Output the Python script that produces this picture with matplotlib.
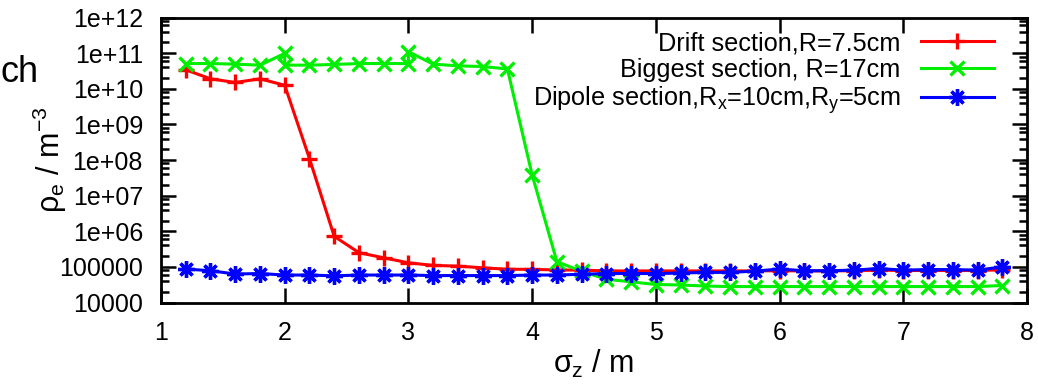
import matplotlib
matplotlib.use("Agg")
import matplotlib.pyplot as plt
from matplotlib.ticker import LogLocator, FixedLocator, NullFormatter

plt.rcParams['font.family'] = ['Liberation Sans', 'DejaVu Sans']
plt.rcParams['mathtext.fontset'] = 'custom'
plt.rcParams['mathtext.rm'] = 'Liberation Sans'
plt.rcParams['mathtext.it'] = 'Liberation Sans'
plt.rcParams['mathtext.bf'] = 'Liberation Sans:bold'

# ---- data ----
sigma_z = [1.2, 1.4, 1.6, 1.8, 2.0, 2.2, 2.4, 2.6, 2.8, 3.0, 3.2, 3.4, 3.6, 3.8, 4.0, 4.2, 4.4,
           4.6, 4.8, 5.0, 5.2, 5.4, 5.6, 5.8, 6.0, 6.2, 6.4, 6.6, 6.8, 7.0, 7.2, 7.4, 7.6, 7.8]
drift = [3.4e10, 1.9e10, 1.5e10, 1.9e10, 1.25e10, 1.1e8, 7.2e5, 2.5e5, 1.8e5, 1.3e5, 1.1e5, 1.05e5,
         9.4e4, 8.6e4, 8.5e4, 8.2e4, 8.1e4, 7.7e4, 7.7e4, 7.7e4, 7.7e4, 7.7e4, 7.7e4, 7.7e4,
         7.8e4, 7.7e4, 7.7e4, 7.8e4, 8.1e4, 7.9e4, 7.9e4, 7.9e4, 7.9e4, 8.3e4]
biggest_x = [1.2, 1.4, 1.6, 1.8, 2.0, 2.0, 2.2, 2.4, 2.6, 2.8, 3.0, 3.0, 3.2, 3.4, 3.6, 3.8, 4.0,
             4.2, 4.4, 4.6, 4.8, 5.0, 5.2, 5.4, 5.6, 5.8, 6.0, 6.2, 6.4, 6.6, 6.8, 7.0, 7.2,
             7.4, 7.6, 7.8]
biggest = [5.1e10, 5.1e10, 4.9e10, 4.6e10, 9.8e10, 4.6e10, 4.6e10, 4.8e10, 5.1e10, 5.1e10, 5.1e10,
           1.1e11, 4.9e10, 4.4e10, 4.2e10, 3.6e10, 3.8e7, 1.4e5, 7.5e4, 4.5e4, 3.8e4, 3.2e4,
           3.1e4, 2.9e4, 2.8e4, 2.8e4, 2.8e4, 2.8e4, 2.8e4, 2.8e4, 2.8e4, 2.8e4, 2.8e4, 2.8e4,
           2.8e4, 3.0e4]
dipole = [8.7e4, 7.8e4, 6.3e4, 6.5e4, 5.9e4, 5.9e4, 5.6e4, 5.9e4, 5.9e4, 5.9e4, 5.7e4, 5.7e4,
          5.7e4, 5.7e4, 5.9e4, 5.9e4, 6.2e4, 6.5e4, 6.5e4, 6.5e4, 6.7e4, 7.0e4, 7.0e4, 7.6e4,
          8.7e4, 7.8e4, 7.8e4, 8.1e4, 9.0e4, 8.1e4, 8.4e4, 8.4e4, 8.1e4, 1.0e5]

labels = ['Drift section,R=7.5cm', 'Biggest section, R=17cm',
          r'Dipole section,R$_\mathrm{x}$=10cm,R$_\mathrm{y}$=5cm']
xticks = [1, 2, 3, 4, 5, 6, 7, 8]
yticks = [1e4, 1e5, 1e6, 1e7, 1e8, 1e9, 1e10, 1e11, 1e12]
ytick_labels = ['10000', '100000', '1e+06', '1e+07', '1e+08', '1e+09', '1e+10', '1e+11', '1e+12']

# ---- figure ----
fig = plt.figure(figsize=(10.38, 3.87), dpi=100)
ax = fig.add_axes([161/1038, 1 - 302.5/387, (1027-161)/1038, (302.5-17.5)/387])

lw = 2.2
ax.plot(sigma_z, drift, color='#ff0000', lw=lw, marker='+', ms=11, mew=2.4, label=labels[0])
ax.plot(biggest_x, biggest, color='#00ee00', lw=lw, marker='x', ms=10, mew=2.4, label=labels[1])
ax.plot(sigma_z, dipole, color='#0000ff', lw=lw, marker=(8, 2, 0), ms=12, mew=2.4, label=labels[2])

ax.set_yscale('log')
ax.set_xlim(1, 8)
ax.set_ylim(1e4, 1e12)
ax.xaxis.set_major_locator(FixedLocator(xticks))
ax.set_xticklabels([str(t) for t in xticks])
ax.yaxis.set_major_locator(FixedLocator(yticks))
ax.set_yticklabels(ytick_labels)
ax.yaxis.set_minor_locator(LogLocator(base=10, subs=(2, 4, 6, 8), numticks=20))
ax.yaxis.set_minor_formatter(NullFormatter())

ax.tick_params(which='both', direction='in', top=True, right=True, labelsize=18)
ax.tick_params(which='major', length=11, width=1.8)
ax.tick_params(which='minor', length=6, width=1.8)
ax.tick_params(axis='x', pad=13)
ax.tick_params(axis='y', pad=13)
for s in ax.spines.values():
    s.set_linewidth(2.0)

ax.set_xlabel(r'$\sigma_z$ / m', fontsize=22)
ax.xaxis.set_label_coords(0.5, -(348 - 302.5) / 285)
ax.xaxis.label.set_va('top')
ax.set_ylabel(r'$\rho_e$ / m$^{-3}$', fontsize=22)
ax.yaxis.set_label_coords((50 - 161) / 866, 0.5)
ax.yaxis.label.set_va('center')

leg = ax.legend(loc='upper right', bbox_to_anchor=((994 - 161) / 866, 1 - (31 - 17.5) / 285),
                frameon=False, markerfirst=False, fontsize=18.2, borderpad=0, borderaxespad=0,
                handlelength=2.9, labelspacing=0.1, handletextpad=0.8)

fig.text(1/1038, 1 - 82/387, 'ch', fontsize=26, ha='left', va='baseline')

fig.savefig('out.png', dpi=100)
